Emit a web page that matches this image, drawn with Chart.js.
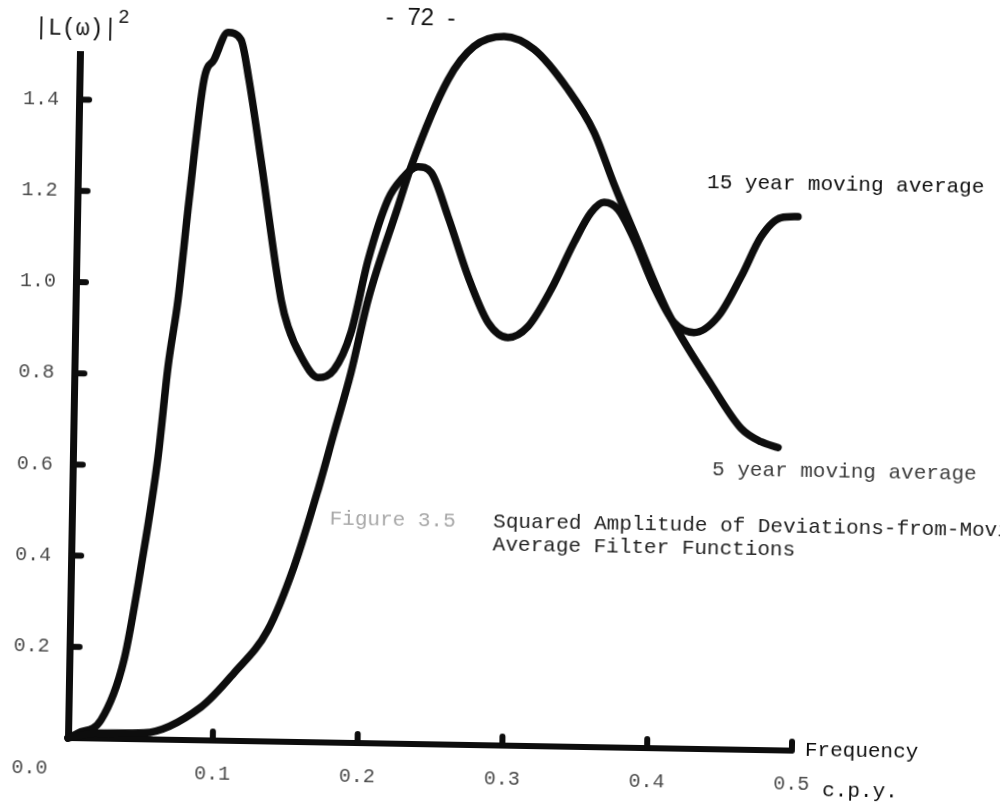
<!DOCTYPE html>
<html>
<head>
<meta charset="utf-8">
<script src="https://cdn.jsdelivr.net/npm/chart.js@4/dist/chart.umd.min.js"></script>
<style>
  html, body { margin: 0; padding: 0; background: #fff; overflow: hidden; }
  #wrap { width: 1000px; height: 809px; }
  /* the page sits about one degree off square */
  #plot { transform: rotate(1deg); transform-origin: 68px 738px; }
</style>
</head>
<body>
<div id="wrap"><canvas id="plot" width="1000" height="809"></canvas></div>
<script>
// frequency (cycles per year) and squared gain |L(w)|^2 of each deviation filter
const freq5 = [0, 0.0227, 0.0524, 0.0915, 0.1139, 0.1368, 0.154, 0.1697, 0.180, 0.191, 0.202, 0.2215, 0.230,
  0.2545, 0.272, 0.2927, 0.3135, 0.3375, 0.356, 0.3704, 0.3848, 0.4093, 0.4398, 0.461, 0.475, 0.4868];
const gain5 = [0, 0.012, 0.014, 0.073, 0.149, 0.245, 0.384, 0.554, 0.679, 0.812, 0.973, 1.178, 1.266,
  1.458, 1.532, 1.555, 1.528, 1.441, 1.348, 1.235, 1.130, 0.955, 0.800, 0.705, 0.676, 0.664];

const freq15 = [0, 0.0068, 0.0226, 0.0377, 0.0484, 0.0588, 0.0646, 0.0707, 0.0771, 0.086, 0.0927, 0.102, 0.111,
  0.117, 0.1263, 0.1419, 0.147, 0.1564, 0.1683, 0.1793, 0.1905, 0.2015, 0.2145, 0.2233, 0.2348, 0.2439, 0.2561,
  0.2707, 0.2851, 0.299, 0.3127, 0.3282, 0.3435, 0.3548, 0.3637, 0.3735, 0.3849, 0.3992, 0.4135, 0.4274, 0.4438,
  0.4592, 0.4726, 0.4861, 0.4978];
const gain15 = [0, 0.011, 0.041, 0.173, 0.378, 0.620, 0.818, 0.965, 1.184, 1.449, 1.493, 1.553, 1.538,
  1.451, 1.275, 0.969, 0.910, 0.845, 0.800, 0.818, 0.900, 1.060, 1.193, 1.237, 1.266, 1.254, 1.158,
  1.027, 0.927, 0.895, 0.920, 1.002, 1.106, 1.172, 1.195, 1.180, 1.115, 1.012, 0.934, 0.913, 0.949,
  1.037, 1.126, 1.168, 1.171];

const xTicks = [0.1, 0.2, 0.3, 0.4, 0.5];
const yTicks = [0.2, 0.4, 0.6, 0.8, 1.0, 1.2, 1.4];

const mono = "'Liberation Mono', 'DejaVu Sans Mono', monospace";
const sans = "'Liberation Sans', Arial, sans-serif";
const ink = "#0d0d0d";

function points(xs, ys) {
  return xs.map((x, i) => ({ x: x, y: ys[i] }));
}

function curve(label, xs, ys) {
  return {
    label: label,
    data: points(xs, ys),
    borderColor: ink,
    borderWidth: 7.5,
    borderCapStyle: "round",
    borderJoinStyle: "round",
    cubicInterpolationMode: "monotone",
    pointRadius: 0,
    fill: false,
    clip: false,
  };
}

// hand-drawn style tick stubs, curve names and the page text
const paperMarks = {
  id: "paperMarks",
  afterDraw(chart) {
    const { ctx, chartArea: area } = chart;
    const xs = chart.scales.x;
    const ys = chart.scales.y;
    ctx.save();

    ctx.strokeStyle = ink;
    ctx.lineCap = "round";
    ctx.lineWidth = 6;
    yTicks.forEach(v => {
      const py = ys.getPixelForValue(v);
      ctx.beginPath();
      ctx.moveTo(area.left, py);
      ctx.lineTo(area.left + 10, py);
      ctx.stroke();
    });
    xTicks.forEach(v => {
      const px = xs.getPixelForValue(v);
      ctx.beginPath();
      ctx.moveTo(px, area.bottom);
      ctx.lineTo(px, area.bottom - 9);
      ctx.stroke();
    });

    const text = (str, x, y, font, color, align) => {
      ctx.font = font;
      ctx.fillStyle = color;
      ctx.textAlign = align || "left";
      ctx.textBaseline = "middle";
      ctx.fillText(str, x, y);
    };
    const at = (fx, gy) => [xs.getPixelForValue(fx), ys.getPixelForValue(gy)];

    // origin label shared by both axes
    text("0.0", area.left - 20, area.bottom + 31, "20px " + mono, "#4a4a4a", "right");

    // axis titles
    text("|L(\u03c9)|", 22, 29, "23px " + mono, ink);
    text("2", 106, 17, "19px " + sans, ink);
    text("Frequency", area.right + 13, area.bottom - 1, "21px " + mono, ink);
    text("c.p.y.", area.right + 31, area.bottom + 39, "21px " + mono, ink);

    // curve names
    let p = at(0.4346, 1.243);
    text("15 year moving average", p[0], p[1], "21px " + mono, ink);
    p = at(0.4415, 0.612);
    text("5 year moving average", p[0], p[1], "21px " + mono, "#3c3c3c");

    // caption
    p = at(0.178, 0.491);
    text("Figure 3.5", p[0], p[1], "21px " + mono, "#a8a8a8");
    p = at(0.291, 0.491);
    text("Squared Amplitude of Deviations-from-Moving", p[0], p[1], "21px " + mono, "#222");
    p = at(0.291, 0.439);
    text("Average Filter Functions", p[0], p[1], "21px " + mono, "#222");

    // page number
    p = at(0.2348, 1.592);
    text("-  72  -", p[0], p[1], "24px " + sans, ink, "center");

    ctx.restore();
  },
};

new Chart(document.getElementById("plot"), {
  type: "line",
  data: {
    datasets: [
      curve("5 year moving average", freq5, gain5),
      curve("15 year moving average", freq15, gain15),
    ],
  },
  options: {
    responsive: false,
    animation: false,
    events: [],
    layout: { padding: { top: 54, right: 208, left: 0, bottom: 0 } },
    plugins: {
      legend: { display: false },
      tooltip: { enabled: false },
    },
    scales: {
      x: {
        type: "linear",
        min: 0,
        max: 0.5,
        afterBuildTicks: s => { s.ticks = xTicks.map(v => ({ value: v })); },
        afterFit: s => { s.height = 71; },
        grid: { display: false, drawTicks: false },
        border: { display: true, color: ink, width: 6 },
        ticks: {
          maxRotation: 0,
          autoSkip: false,
          padding: 22,
          color: "#4a4a4a",
          font: { family: mono, size: 20 },
          callback: v => v.toFixed(1),
        },
      },
      y: {
        type: "linear",
        min: 0,
        max: 1.5,
        afterBuildTicks: s => { s.ticks = yTicks.map(v => ({ value: v })); },
        afterFit: s => { s.width = 68; },
        grid: { display: false, drawTicks: false },
        border: { display: true, color: ink, width: 7 },
        ticks: {
          autoSkip: false,
          padding: 20,
          color: "#4a4a4a",
          font: { family: mono, size: 20 },
          callback: v => v.toFixed(1),
        },
      },
    },
  },
  plugins: [paperMarks],
});
</script>
</body>
</html>
